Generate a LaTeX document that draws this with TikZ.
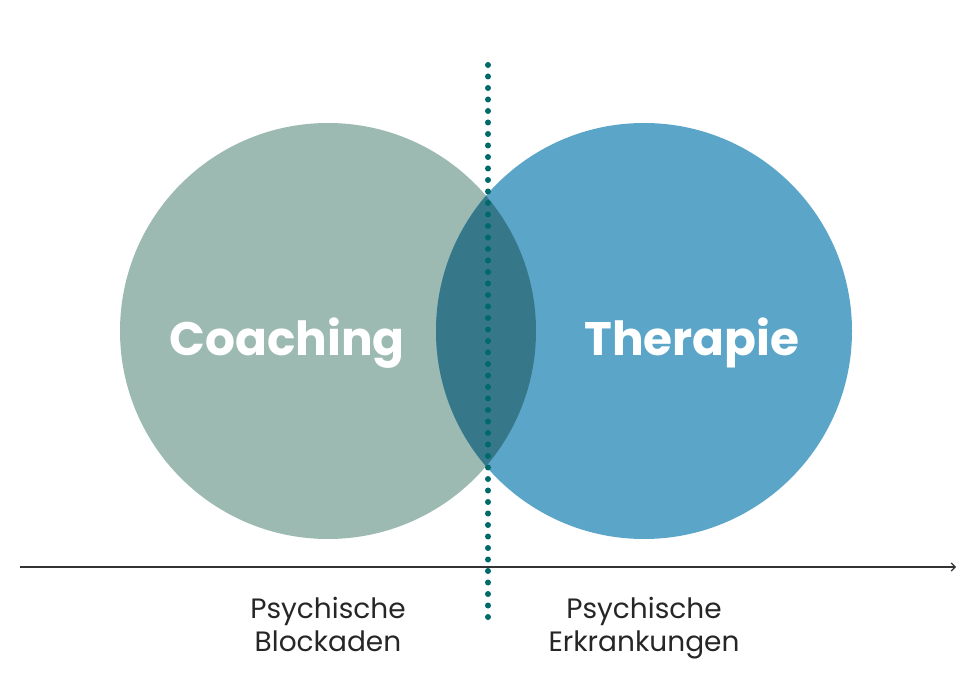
\documentclass[tikz,border=0pt]{standalone}
\usepackage{fontspec}
\setmainfont{Poppins}
\usetikzlibrary{arrows.meta}
\definecolor{coachgreen}{HTML}{9CBAB1}
\definecolor{therablue}{HTML}{5BA5C8}
\definecolor{overlapteal}{HTML}{36788A}
\definecolor{dotteal}{HTML}{00696A}
\definecolor{axisgray}{HTML}{333333}

\begin{document}
\begin{tikzpicture}[x=1pt, y=-1pt,
  bigword/.style={text=white, anchor=base, font=\fontsize{47}{54}\selectfont\bfseries},
  axislabel/.style={align=center, anchor=north, text=black!85, font=\fontsize{28}{33}\selectfont}]
\useasboundingbox (0,0) rectangle (980,700);
% the two circles and their overlap
\fill[coachgreen] (328,331) circle[radius=208];
\fill[therablue] (644,331) circle[radius=208];
\begin{scope}
  \clip (328,331) circle[radius=208];
  \fill[overlapteal] (644,331) circle[radius=208];
\end{scope}
\node[bigword] (coach) at (287,356) {Coaching};
\node[bigword] (ther) at (692,356) {Therapie};
% axis
\coordinate (axstart) at (20,567);
\coordinate (axend) at (956,567);
\draw[axisgray, line width=1.1pt, -{Straight Barb[length=4pt,width=8pt]}] (axstart) -- (axend);
% dotted divider
\coordinate (dottop) at (488,65);
\coordinate (dotbottom) at (488,617);
\draw[dotteal, line width=6pt, line cap=round, dash pattern=on 0pt off 11.5pt] (dottop) -- (dotbottom);
\node[axislabel] (blockaden) at (328,594) {Psychische\\Blockaden};
\node[axislabel] (erkrankungen) at (644,594) {Psychische\\Erkrankungen};
\end{tikzpicture}
\end{document}
